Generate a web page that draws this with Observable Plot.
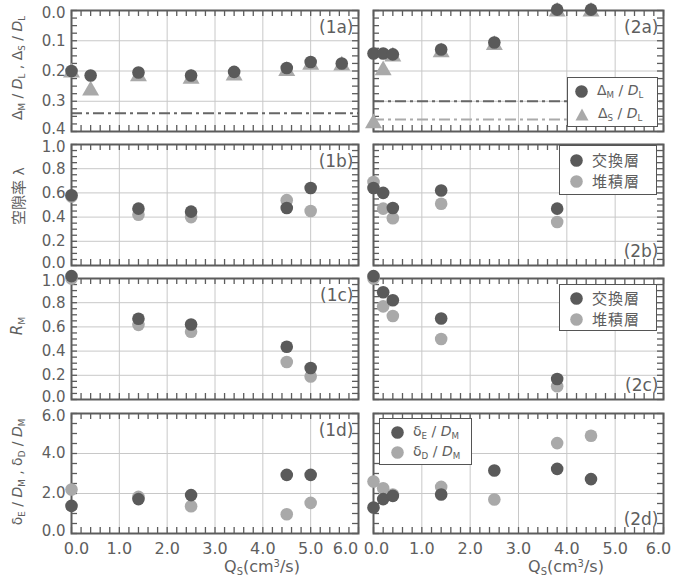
<!DOCTYPE html>
<html><head><meta charset="utf-8">
<script src="https://cdn.jsdelivr.net/npm/d3@7"></script>
<script src="https://cdn.jsdelivr.net/npm/@observablehq/plot@0.6"></script>
<style>
body{margin:0;background:#fff;}
#chart{position:relative;width:676px;height:582px;font-family:"DejaVu Sans",sans-serif;color:#5e5e5e;overflow:hidden;background:#fff}
.p{position:absolute;overflow:visible}
.ylab{position:absolute;transform:translate(-50%,-50%) rotate(-90deg);white-space:nowrap;font-size:14px;line-height:1}
.xlab{position:absolute;transform:translate(-50%,-50%);white-space:nowrap;font-size:16px;line-height:1}
.leg{position:absolute;background:#fff;border:1.5px solid #555;box-sizing:border-box;font-size:14px;line-height:1}
.row{position:absolute;display:flex;align-items:center;white-space:nowrap}
.row svg{margin-right:9px}
.jp{font-family:"Noto Sans CJK JP",sans-serif;font-size:15px;letter-spacing:1px}
sub{font-size:0.62em;vertical-align:-0.35em}
sup{font-size:0.62em;vertical-align:0.5em}
i{font-style:italic}
</style></head>
<body><div id="chart"></div>
<script>
// ---------- data ----------
const qsA1 = [0, 0.4, 1.4, 2.5, 3.4, 4.5, 5.0, 5.65];
const dmA1 = [0.200, 0.215, 0.205, 0.215, 0.203, 0.190, 0.170, 0.175];
const dsA1 = [0.205, 0.265, 0.218, 0.226, 0.215, 0.200, 0.180, 0.182];
const qsA2 = [0, 0.2, 0.4, 1.4, 2.5, 3.8, 4.5];
const dmA2 = [0.142, 0.142, 0.145, 0.129, 0.106, -0.003, -0.003];
const dsA2 = [0.373, 0.198, 0.152, 0.138, 0.114, 0.004, 0.004];
const refA1 = [0.34];
const refA2M = [0.30];
const refA2S = [0.36];

const qsL = [0, 1.4, 2.5, 4.5, 5.0];
const qsR = [0, 0.2, 0.4, 1.4, 3.8];
const lamExL = [0.58, 0.47, 0.445, 0.475, 0.64];
const lamDeL = [0.57, 0.42, 0.40, 0.54, 0.45];
const lamExR = [0.64, 0.60, 0.475, 0.62, 0.47];
const lamDeR = [0.69, 0.47, 0.39, 0.51, 0.36];
const rmExL = [1.02, 0.667, 0.62, 0.436, 0.26];
const rmDeL = [1.00, 0.617, 0.56, 0.31, 0.19];
const rmExR = [1.02, 0.886, 0.82, 0.67, 0.17];
const rmDeR = [1.00, 0.77, 0.69, 0.50, 0.11];
const qsD2 = [0, 0.2, 0.4, 1.4, 2.5, 3.8, 4.5];
const deL = [1.38, 1.72, 1.92, 2.93, 2.93];
const ddL = [2.20, 1.83, 1.36, 0.96, 1.53];
const deR = [1.30, 1.72, 1.88, 1.95, 3.15, 3.23, 2.72];
const ddR = [2.60, 2.26, 1.95, 2.33, 1.70, 4.52, 4.89];

const xTicks = [0, 1, 2, 3, 4, 5, 6];
const xMinor = d3.range(0, 6.0001, 0.2);
const yTicksA = [0, 0.1, 0.2, 0.3, 0.4];
const yTicksB = [0, 0.2, 0.4, 0.6, 0.8, 1.0];
const yTicksD = [0, 2, 4, 6];

const DARK = "#5a5a5a", LIGHT = "#a9a9a9", GRID = "#c8c8c8", FRAME = "#5c5c5c";

const tbl = (xs, ys) => xs.map((x, i) => ({x, y: ys[i]}));

// ---------- layout ----------
const cols = [{x0: 71, x1: 358, dx0: 5, dx6: -13}, {x0: 373, x1: 663, dx0: 3, dx6: -5}];
const rows = [{y0: 10, y1: 131}, {y0: 144, y1: 265}, {y0: 278, y1: 399}, {y0: 413, y1: 533}];

const chart = document.getElementById("chart");

function panel(ci, ri, opts) {
  const c = cols[ci], r = rows[ri];
  const fw = c.x1 - c.x0, fh = r.y1 - r.y0;
  const mL = ci === 0 ? 71 : 12, mR = 12, mT = 12, mB = ri === 3 ? 30 : 12;
  const yMinor = d3.range(opts.domain[0], opts.domain[1] + 1e-9, opts.minor);
  const tk = {stroke: FRAME, strokeWidth: 1.3};
  const marks = [
    Plot.gridX(xTicks.slice(1, -1), {stroke: GRID, strokeOpacity: 1}),
    Plot.gridY(opts.ticks.slice(1, -1), {stroke: GRID, strokeOpacity: 1}),
    Plot.ruleX(xMinor, {x: d => d, ...tk, insetTop: fh - 6}),
    Plot.ruleX(xMinor, {x: d => d, ...tk, insetBottom: fh - 6}),
    Plot.ruleY(yMinor, {y: d => d, ...tk, insetRight: fw - 6}),
    Plot.ruleY(yMinor, {y: d => d, ...tk, insetLeft: fw - 6}),
    ...(opts.rules || []),
    Plot.frame({stroke: FRAME, strokeWidth: 2}),
    ...opts.dots,
    Plot.text([opts.label], {frameAnchor: opts.labelBottom ? "bottom-right" : "top-right",
      dx: -5, dy: opts.labelBottom ? -9 : 10, fontSize: 17, fill: "#5e5e5e"})
  ];
  const tf = d => d.toFixed(1);
  if (ci === 0) {
    const ay = {tickSize: 0, tickPadding: 6, fontSize: 15, tickFormat: tf, fill: "#5e5e5e", label: null};
    const t = opts.ticks;
    const topT = opts.reverse ? t[0] : t[t.length - 1];
    const botT = opts.reverse ? t[t.length - 1] : t[0];
    marks.push(Plot.axisY(t.slice(1, -1), ay));
    marks.push(Plot.axisY([topT], {...ay, dy: 3}));
    marks.push(Plot.axisY([botT], {...ay, dy: -2}));
  }
  if (ri === 3) {
    const ax = {tickSize: 0, tickPadding: 9, fontSize: 16, tickFormat: tf, fill: "#5e5e5e", label: null};
    marks.push(Plot.axisX(xTicks.slice(1, -1), ax));
    marks.push(Plot.axisX(xTicks.slice(0, 1), {...ax, dx: c.dx0}));
    marks.push(Plot.axisX(xTicks.slice(-1), {...ax, dx: c.dx6}));
  }
  const svg = Plot.plot({
    width: mL + fw + mR, height: mT + fh + mB,
    marginLeft: mL, marginRight: mR, marginTop: mT, marginBottom: mB,
    x: {domain: [0, 6], ...(ri === 3 ? {} : {axis: null})},
    y: {domain: opts.domain, reverse: !!opts.reverse, ...(ci === 0 ? {} : {axis: null})},
    style: {fontFamily: '"DejaVu Sans", sans-serif', color: "#5e5e5e", overflow: "visible", background: "transparent"},
    marks
  });
  svg.classList.add("p");
  svg.style.left = (c.x0 - mL) + "px";
  svg.style.top = (r.y0 - mT) + "px";
  chart.appendChild(svg);
  return svg;
}

const dash = "11,4,3,4";
const tri = {x: "x", y: "y", symbol: "triangle", r: 6.3, fill: LIGHT};
const dot = f => ({x: "x", y: "y", r: 6.3, fill: f});
// row a
panel(0, 0, {domain: [0, 0.4], reverse: true, ticks: yTicksA, minor: 0.025, label: "(1a)",
  rules: [Plot.ruleY(refA1, {stroke: "#666", strokeWidth: 2, strokeDasharray: dash})],
  dots: [Plot.dot(tbl(qsA1, dsA1), tri), Plot.dot(tbl(qsA1, dmA1), dot(DARK))]});
panel(1, 0, {domain: [0, 0.4], reverse: true, ticks: yTicksA, minor: 0.025, label: "(2a)",
  rules: [Plot.ruleY(refA2M, {stroke: "#666", strokeWidth: 2, strokeDasharray: dash}),
          Plot.ruleY(refA2S, {stroke: "#aaa", strokeWidth: 2, strokeDasharray: dash})],
  dots: [Plot.dot(tbl(qsA2, dsA2), tri), Plot.dot(tbl(qsA2, dmA2), dot(DARK))]});
// row b
panel(0, 1, {domain: [0, 1], ticks: yTicksB, minor: 0.05, label: "(1b)",
  dots: [Plot.dot(tbl(qsL, lamDeL), dot(LIGHT)), Plot.dot(tbl(qsL, lamExL), dot(DARK))]});
panel(1, 1, {domain: [0, 1], ticks: yTicksB, minor: 0.05, label: "(2b)", labelBottom: true,
  dots: [Plot.dot(tbl(qsR, lamDeR), dot(LIGHT)), Plot.dot(tbl(qsR, lamExR), dot(DARK))]});
// row c
panel(0, 2, {domain: [0, 1], ticks: yTicksB, minor: 0.05, label: "(1c)",
  dots: [Plot.dot(tbl(qsL, rmDeL), dot(LIGHT)), Plot.dot(tbl(qsL, rmExL), dot(DARK))]});
panel(1, 2, {domain: [0, 1], ticks: yTicksB, minor: 0.05, label: "(2c)", labelBottom: true,
  dots: [Plot.dot(tbl(qsR, rmDeR), dot(LIGHT)), Plot.dot(tbl(qsR, rmExR), dot(DARK))]});
// row d
panel(0, 3, {domain: [0, 6], ticks: yTicksD, minor: 0.5, label: "(1d)",
  dots: [Plot.dot(tbl(qsL, ddL), dot(LIGHT)), Plot.dot(tbl(qsL, deL), dot(DARK))]});
panel(1, 3, {domain: [0, 6], ticks: yTicksD, minor: 0.5, label: "(2d)", labelBottom: true,
  dots: [Plot.dot(tbl(qsD2, ddR), dot(LIGHT)), Plot.dot(tbl(qsD2, deR), dot(DARK))]});

// ---------- titles & legends ----------
function addDiv(cls, html, css) {
  const d = document.createElement("div");
  d.className = cls; d.innerHTML = html; Object.assign(d.style, css);
  chart.appendChild(d); return d;
}
addDiv("ylab", "Δ<sub>M</sub> / <i>D</i><sub>L</sub> , Δ<sub>S</sub> / <i>D</i><sub>L</sub>", {left: "18px", top: "68px"});
addDiv("ylab", '<span class="jp" style="letter-spacing:0">空隙率</span> λ', {left: "18px", top: "196px"});
addDiv("ylab", "<i>R</i><sub>M</sub>", {left: "18px", top: "326px", fontSize: "15px"});
addDiv("ylab", "δ<sub>E</sub> / <i>D</i><sub>M</sub> , δ<sub>D</sub> / <i>D</i><sub>M</sub>", {left: "18px", top: "472px"});
addDiv("xlab", "Q<sub>S</sub>(cm<sup>3</sup>/s)", {left: "262px", top: "568px"});
addDiv("xlab", "Q<sub>S</sub>(cm<sup>3</sup>/s)", {left: "566px", top: "568px"});

const circ = c => `<svg width="13" height="13"><circle cx="6.5" cy="6.5" r="6.3" fill="${c}"/></svg>`;
const triSym = c => `<svg width="14" height="13"><path d="M7,0.5L13.5,12.5H0.5Z" fill="${c}"/></svg>`;
function legend(box, items) {
  const L = addDiv("leg", "", {left: box[0] + "px", top: box[1] + "px", width: box[2] + "px", height: box[3] + "px"});
  items.forEach(it => {
    const r = document.createElement("div");
    r.className = "row"; r.innerHTML = it.sym + `<span>${it.text}</span>`;
    Object.assign(r.style, {left: it.left + "px", top: it.top + "px"});
    L.appendChild(r);
  });
}
legend([567, 77, 91, 50], [
  {sym: circ(DARK), text: "Δ<sub>M</sub> / <i>D</i><sub>L</sub>", left: 7, top: 5},
  {sym: triSym(LIGHT), text: "Δ<sub>S</sub> / <i>D</i><sub>L</sub>", left: 7, top: 28}]);
legend([559, 145, 98, 50], [
  {sym: circ(DARK), text: '<span class="jp">交換層</span>', left: 10, top: 6},
  {sym: circ(LIGHT), text: '<span class="jp">堆積層</span>', left: 10, top: 27}]);
legend([559, 284, 98, 47], [
  {sym: circ(DARK), text: '<span class="jp">交換層</span>', left: 10, top: 5},
  {sym: circ(LIGHT), text: '<span class="jp">堆積層</span>', left: 10, top: 26}]);
legend([379, 418, 93, 47], [
  {sym: circ(DARK), text: "δ<sub>E</sub> / <i>D</i><sub>M</sub>", left: 11, top: 5},
  {sym: circ(LIGHT), text: "δ<sub>D</sub> / <i>D</i><sub>M</sub>", left: 11, top: 25}]);
</script>
</body></html>
